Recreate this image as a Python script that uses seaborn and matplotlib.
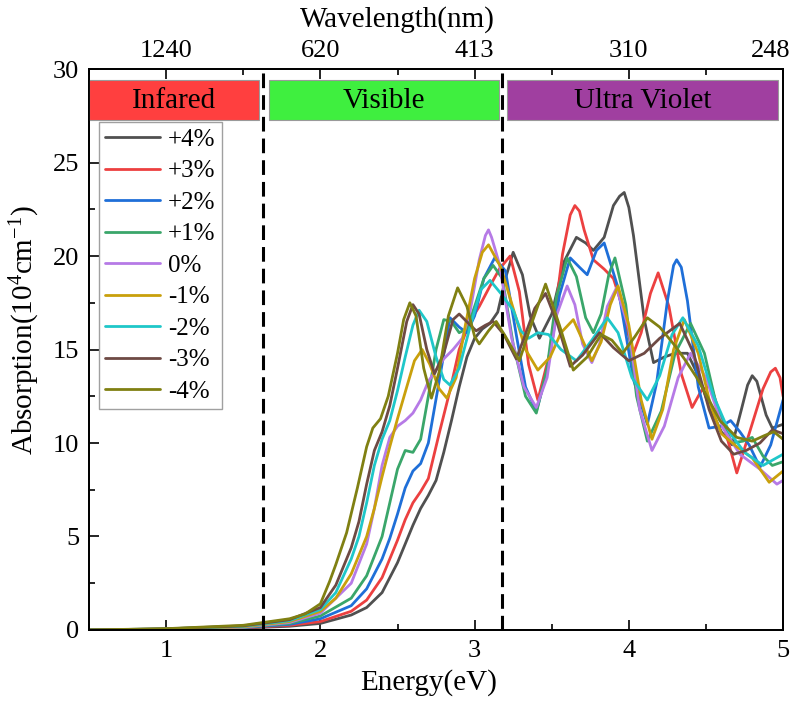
import numpy as np
import pandas as pd
import matplotlib
matplotlib.use('Agg')
import matplotlib.pyplot as plt
import matplotlib.transforms as mtransforms
import seaborn as sns
from matplotlib.patches import Rectangle
from matplotlib.ticker import MultipleLocator

# ---- data (energy in eV, absorption in 1e4 cm^-1) ----
strain_labels = ['+4%', '+3%', '+2%', '+1%', '0%', '-1%', '-2%', '-3%', '-4%']
strain_colors = ['#505050', '#EC4040', '#1F6FD8', '#3AA66A', '#B67AE6',
                 '#C9A00C', '#1FC7C9', '#6E4A44', '#808012']

e_p4 = [0.5, 1.0, 1.5, 1.8, 2.0, 2.2, 2.3, 2.4, 2.5, 2.55, 2.6, 2.65, 2.7, 2.75, 2.8, 2.85, 2.9, 2.95,
        3.0, 3.05, 3.1, 3.15, 3.2, 3.25, 3.31, 3.36, 3.42, 3.5, 3.58, 3.66, 3.72, 3.77, 3.84, 3.9,
        3.94, 3.97, 4.0, 4.03, 4.1, 4.16, 4.23, 4.3, 4.38, 4.45, 4.52, 4.6, 4.67, 4.73, 4.77, 4.8,
        4.83, 4.86, 4.89, 4.93, 5.0]
a_p4 = [0.0, 0.03, 0.1, 0.2, 0.35, 0.8, 1.2, 2.0, 3.6, 4.6, 5.6, 6.5, 7.2, 8.0, 9.5, 11.2, 13.0, 14.6,
        15.6, 16.1, 16.4, 17.0, 18.8, 20.2, 19.0, 16.8, 15.6, 16.9, 19.7, 21.0, 20.7, 20.3, 21.0, 22.7,
        23.2, 23.4, 22.6, 21.1, 16.6, 14.3, 14.6, 14.8, 14.8, 13.6, 12.0, 10.6, 9.9, 11.8, 13.1, 13.6,
        13.3, 12.4, 11.5, 10.8, 11.0]

e_p3 = [0.5, 1.0, 1.5, 1.8, 2.0, 2.2, 2.3, 2.4, 2.5, 2.55, 2.6, 2.65, 2.7, 2.77, 2.84, 2.9, 2.97, 3.03,
        3.1, 3.16, 3.23, 3.29, 3.35, 3.41, 3.49, 3.57, 3.62, 3.65, 3.68, 3.71, 3.77, 3.84, 3.9, 3.95,
        3.99, 4.03, 4.08, 4.14, 4.19, 4.26, 4.34, 4.41, 4.47, 4.53, 4.62, 4.7, 4.78, 4.87, 4.92,
        4.95, 4.98, 5.0]
a_p3 = [0.0, 0.03, 0.12, 0.25, 0.45, 1.0, 1.6, 2.8, 4.8, 5.9, 6.8, 7.4, 8.1, 10.5, 12.8, 15.0, 16.5, 17.3,
        18.4, 19.3, 20.0, 18.1, 14.2, 12.3, 14.9, 20.1, 22.2, 22.7, 22.4, 21.4, 19.8, 19.3, 18.8, 17.5,
        16.0, 14.8, 15.9, 18.0, 19.1, 17.3, 13.7, 11.9, 12.8, 13.1, 10.8, 8.4, 10.5, 12.9, 13.8,
        14.0, 13.5, 12.5]

e_p2 = [0.5, 1.0, 1.5, 1.8, 2.0, 2.2, 2.3, 2.4, 2.45, 2.5, 2.55, 2.6, 2.65, 2.7, 2.77, 2.84, 2.9, 2.95,
        3.0, 3.06, 3.13, 3.2, 3.27, 3.33, 3.4, 3.47, 3.55, 3.62, 3.68, 3.73, 3.79, 3.84, 3.93, 4.03,
        4.12, 4.18, 4.25, 4.29, 4.31, 4.34, 4.38, 4.45, 4.52, 4.6, 4.66, 4.72, 4.78, 4.85, 4.92, 5.0]
a_p2 = [0.0, 0.04, 0.13, 0.3, 0.6, 1.3, 2.2, 3.8, 4.9, 6.2, 7.6, 8.5, 8.9, 10.0, 13.3, 16.7, 16.2, 15.9,
        16.8, 18.8, 19.9, 19.2, 15.8, 13.0, 11.7, 13.8, 17.9, 19.9, 19.4, 19.0, 20.3, 20.7, 18.3, 13.4,
        11.0, 13.2, 17.6, 19.5, 19.8, 19.4, 17.6, 13.0, 10.8, 10.9, 11.2, 10.6, 9.9, 8.7, 9.9, 12.3]

e_p1 = [0.5, 1.0, 1.5, 1.8, 2.0, 2.2, 2.3, 2.4, 2.45, 2.5, 2.55, 2.6, 2.65, 2.7, 2.75, 2.8, 2.85, 2.9,
        2.95, 3.0, 3.06, 3.12, 3.18, 3.25, 3.33, 3.4, 3.47, 3.53, 3.6, 3.66, 3.72, 3.77, 3.82, 3.87,
        3.91, 3.98, 4.05, 4.12, 4.21, 4.3, 4.4, 4.49, 4.58, 4.67, 4.74, 4.8, 4.87, 4.93, 5.0]
a_p1 = [0.0, 0.04, 0.14, 0.35, 0.75, 1.7, 2.9, 5.0, 6.8, 8.6, 9.6, 9.5, 10.2, 12.5, 15.0, 16.6, 16.5, 15.9,
        16.1, 17.3, 18.8, 19.5, 18.8, 15.3, 12.5, 11.6, 14.0, 17.8, 19.9, 18.9, 16.7, 15.9, 16.9, 19.0,
        19.9, 17.4, 12.5, 10.1, 11.7, 14.8, 16.4, 14.8, 11.6, 10.0, 10.1, 10.3, 9.3, 8.8, 9.0]

e_0 = [0.5, 1.0, 1.5, 1.8, 2.0, 2.2, 2.3, 2.35, 2.4, 2.45, 2.5, 2.55, 2.6, 2.65, 2.7, 2.8, 2.86, 2.92,
       2.97, 3.03, 3.07, 3.09, 3.11, 3.16, 3.24, 3.32, 3.4, 3.47, 3.53, 3.6, 3.65, 3.7, 3.76, 3.81,
       3.86, 3.92, 4.0, 4.07, 4.15, 4.23, 4.32, 4.4, 4.5, 4.61, 4.72, 4.85, 4.96, 5.0]
a_0 = [0.0, 0.05, 0.15, 0.4, 0.9, 2.5, 4.6, 6.5, 8.8, 10.3, 10.9, 11.2, 11.6, 12.3, 13.3, 14.5, 15.0, 15.6,
       17.0, 19.8, 21.1, 21.4, 21.0, 19.6, 15.6, 13.0, 11.9, 13.5, 16.8, 18.4, 17.4, 15.3, 14.3, 15.3,
       17.3, 18.3, 16.1, 11.8, 9.6, 10.9, 13.5, 14.8, 13.5, 10.8, 9.4, 8.6, 7.8, 8.0]

e_m1 = [0.5, 1.0, 1.5, 1.8, 2.0, 2.1, 2.2, 2.3, 2.35, 2.4, 2.45, 2.5, 2.56, 2.61, 2.66, 2.71, 2.77, 2.82,
        2.88, 2.94, 3.0, 3.05, 3.09, 3.17, 3.25, 3.33, 3.41, 3.49, 3.56, 3.64, 3.7, 3.76, 3.82, 3.88,
        3.93, 4.0, 4.08, 4.15, 4.22, 4.29, 4.36, 4.45, 4.53, 4.6, 4.7, 4.8, 4.91, 5.0]
a_m1 = [0.0, 0.05, 0.17, 0.45, 1.0, 1.7, 3.0, 5.0, 6.5, 8.2, 9.8, 11.3, 13.0, 14.4, 15.0, 14.2, 12.9, 12.4,
        13.5, 16.3, 18.8, 20.2, 20.6, 19.4, 17.2, 15.0, 13.9, 14.6, 15.9, 16.6, 15.5, 14.4, 15.4, 17.4,
        18.4, 16.3, 12.3, 10.2, 11.8, 15.0, 16.6, 14.8, 12.0, 10.5, 9.8, 9.2, 7.9, 8.5]

e_m2 = [0.5, 1.0, 1.5, 1.8, 2.0, 2.1, 2.2, 2.25, 2.3, 2.35, 2.4, 2.45, 2.5, 2.55, 2.6, 2.64, 2.69, 2.75,
        2.8, 2.84, 2.9, 2.97, 3.04, 3.1, 3.17, 3.25, 3.3, 3.35, 3.41, 3.48, 3.56, 3.66, 3.76, 3.86,
        3.93, 4.02, 4.12, 4.2, 4.28, 4.35, 4.45, 4.55, 4.65, 4.75, 4.87, 5.0]
a_m2 = [0.0, 0.06, 0.2, 0.5, 1.1, 2.0, 3.8, 5.0, 6.8, 8.8, 10.2, 11.2, 12.8, 14.6, 16.3, 17.1, 16.5, 14.6,
        13.4, 13.1, 14.0, 16.2, 18.2, 18.7, 18.0, 17.1, 16.0, 15.6, 15.9, 15.8, 15.0, 14.4, 15.5, 16.7,
        15.9, 13.5, 12.3, 13.6, 15.8, 16.7, 15.2, 12.5, 10.6, 9.5, 8.8, 9.4]

e_m3 = [0.5, 1.0, 1.5, 1.8, 2.0, 2.1, 2.2, 2.25, 2.3, 2.35, 2.4, 2.45, 2.5, 2.56, 2.6, 2.64, 2.69, 2.74,
        2.8, 2.86, 2.9, 2.96, 3.01, 3.07, 3.12, 3.19, 3.27, 3.32, 3.39, 3.46, 3.54, 3.62, 3.7, 3.81,
        3.9, 4.0, 4.1, 4.2, 4.33, 4.42, 4.52, 4.6, 4.68, 4.76, 4.85, 4.93, 5.0]
a_m3 = [0.0, 0.06, 0.22, 0.55, 1.2, 2.4, 4.4, 5.8, 7.8, 9.6, 10.6, 12.0, 14.0, 16.5, 17.4, 16.9, 15.0, 13.7,
        14.8, 16.6, 16.9, 16.4, 16.0, 16.3, 16.5, 15.8, 14.5, 15.6, 17.2, 18.0, 16.3, 14.1, 14.7, 15.9,
        15.1, 14.4, 14.8, 15.6, 16.4, 14.8, 11.8, 10.1, 9.4, 9.6, 10.0, 10.7, 10.5]

e_m4 = [0.5, 1.0, 1.5, 1.8, 1.9, 2.0, 2.06, 2.1, 2.17, 2.24, 2.3, 2.34, 2.39, 2.44, 2.5, 2.54, 2.58, 2.62,
        2.67, 2.72, 2.77, 2.83, 2.89, 2.95, 3.0, 3.03, 3.09, 3.14, 3.2, 3.29, 3.37, 3.46, 3.55, 3.64,
        3.73, 3.82, 3.89, 3.96, 4.04, 4.12, 4.2, 4.29, 4.36, 4.44, 4.52, 4.59, 4.7, 4.8, 4.88, 4.94, 5.0]
a_m4 = [0.0, 0.07, 0.25, 0.6, 0.85, 1.4, 2.6, 3.5, 5.2, 7.6, 9.8, 10.8, 11.3, 12.5, 14.8, 16.6, 17.5, 16.8,
        14.0, 12.4, 13.8, 16.8, 18.3, 17.3, 15.7, 15.3, 16.0, 16.5, 15.7, 14.4, 16.4, 18.5, 16.3, 13.9,
        14.6, 15.8, 15.5, 14.8, 15.7, 16.7, 16.2, 15.3, 14.5, 13.5, 12.3, 11.2, 10.3, 10.1, 10.4, 10.6, 10.2]

energy_sets = [e_p4, e_p3, e_p2, e_p1, e_0, e_m1, e_m2, e_m3, e_m4]
absorb_sets = [a_p4, a_p3, a_p2, a_p1, a_0, a_m1, a_m2, a_m3, a_m4]

# spectral regions (eV) and the dashed boundaries between them
region_names = ['Infared', 'Visible', 'Ultra Violet']
region_start = [0.5, 1.67, 3.21]
region_end = [1.6, 3.16, 4.97]
region_colors = ['#FF3F3F', '#3FEF3F', '#A03FA0']
boundaries = [1.63, 3.18]

# top axis: wavelength labels at 1..5 eV
top_ticks = [1, 2, 3, 4, 5]
top_labels = ['1240', '620', '413', '310', '248']

# ---- build long-form table ----
frames = []
for lab, e, a in zip(strain_labels, energy_sets, absorb_sets):
    frames.append(pd.DataFrame({'energy': e, 'absorption': a, 'strain': lab}))
df = pd.concat(frames, ignore_index=True)

sns.set_style('ticks')
plt.rcParams['font.family'] = ['Liberation Serif', 'DejaVu Serif']
plt.rcParams['mathtext.fontset'] = 'custom'
plt.rcParams['mathtext.rm'] = 'Liberation Serif'
plt.rcParams['mathtext.it'] = 'Liberation Serif:italic'
for k in ['text.color', 'axes.labelcolor', 'xtick.color', 'ytick.color', 'axes.edgecolor']:
    plt.rcParams[k] = 'black'

fig = plt.figure(figsize=(7.95, 7.02), dpi=100)
ax = fig.add_axes([0.112, 0.1026, 0.873, 0.799])

sns.lineplot(data=df, x='energy', y='absorption', hue='strain', hue_order=strain_labels,
             palette=dict(zip(strain_labels, strain_colors)), sort=False, estimator=None,
             lw=2, ax=ax)
for ln in ax.get_lines():
    ln.set_solid_joinstyle('round')

for b in boundaries:
    ax.axvline(b, color='black', ls=(0, (4.8, 2.3)), lw=2.2, zorder=4)

for name, x0, x1, c in zip(region_names, region_start, region_end, region_colors):
    ax.add_patch(Rectangle((x0, 27.25), x1 - x0, 2.15, facecolor=c, edgecolor='#9a9a9a',
                           lw=0.8, zorder=5))
    ax.text((x0 + x1) / 2, 28.3, name, ha='center', va='center', fontsize=21, zorder=6)

ax.set_xlim(0.5, 5)
ax.set_ylim(0, 30)
ax.xaxis.set_major_locator(MultipleLocator(1))
ax.xaxis.set_minor_locator(MultipleLocator(0.5))
ax.yaxis.set_major_locator(MultipleLocator(5))
ax.yaxis.set_minor_locator(MultipleLocator(2.5))
ax.tick_params(which='major', direction='in', length=7, width=1.2, labelsize=19, pad=7)
ax.tick_params(which='minor', direction='in', length=4, width=1.2)
ax.set_xlabel('Energy(eV)', fontsize=21, labelpad=1)
ax.xaxis.set_label_coords(0.49, -0.07)
ax.set_ylabel(r'Absorption(10$^4$cm$^{-1}$)', fontsize=21, labelpad=8)
ax.yaxis.set_label_coords(-0.068, 0.535)
for s in ax.spines.values():
    s.set_linewidth(1.3)

ax2 = ax.twiny()
ax2.set_xlim(0.5, 5)
ax2.set_xticks(top_ticks)
ax2.set_xticklabels(top_labels)
ax2.xaxis.set_minor_locator(MultipleLocator(0.5))
ax2.tick_params(which='major', direction='in', length=7, width=1.2, labelsize=19, pad=5)
ax2.tick_params(which='minor', direction='in', length=4, width=1.2)
ax2.set_xlabel('Wavelength(nm)', fontsize=21, labelpad=8)
ax2.xaxis.set_label_coords(0.444, 1.075)
# keep the last wavelength label inside the canvas, as in the reference
last = ax2.get_xticklabels()[-1]
last.set_transform(last.get_transform() + mtransforms.ScaledTranslation(-12 / 100, 0, fig.dpi_scale_trans))
for s in ax2.spines.values():
    s.set_linewidth(1.3)

handles, labels = ax.get_legend_handles_labels()
leg = ax.legend(handles, labels, loc='upper left', bbox_to_anchor=(0.0144, 0.9055),
                borderaxespad=0, fontsize=18, frameon=True, fancybox=False,
                edgecolor='#888888', handlelength=2.2, borderpad=0.25,
                labelspacing=0.36, handletextpad=0.3)
leg.get_frame().set_linewidth(1.0)
leg.set_zorder(7)

fig.savefig('out.png', dpi=100)
